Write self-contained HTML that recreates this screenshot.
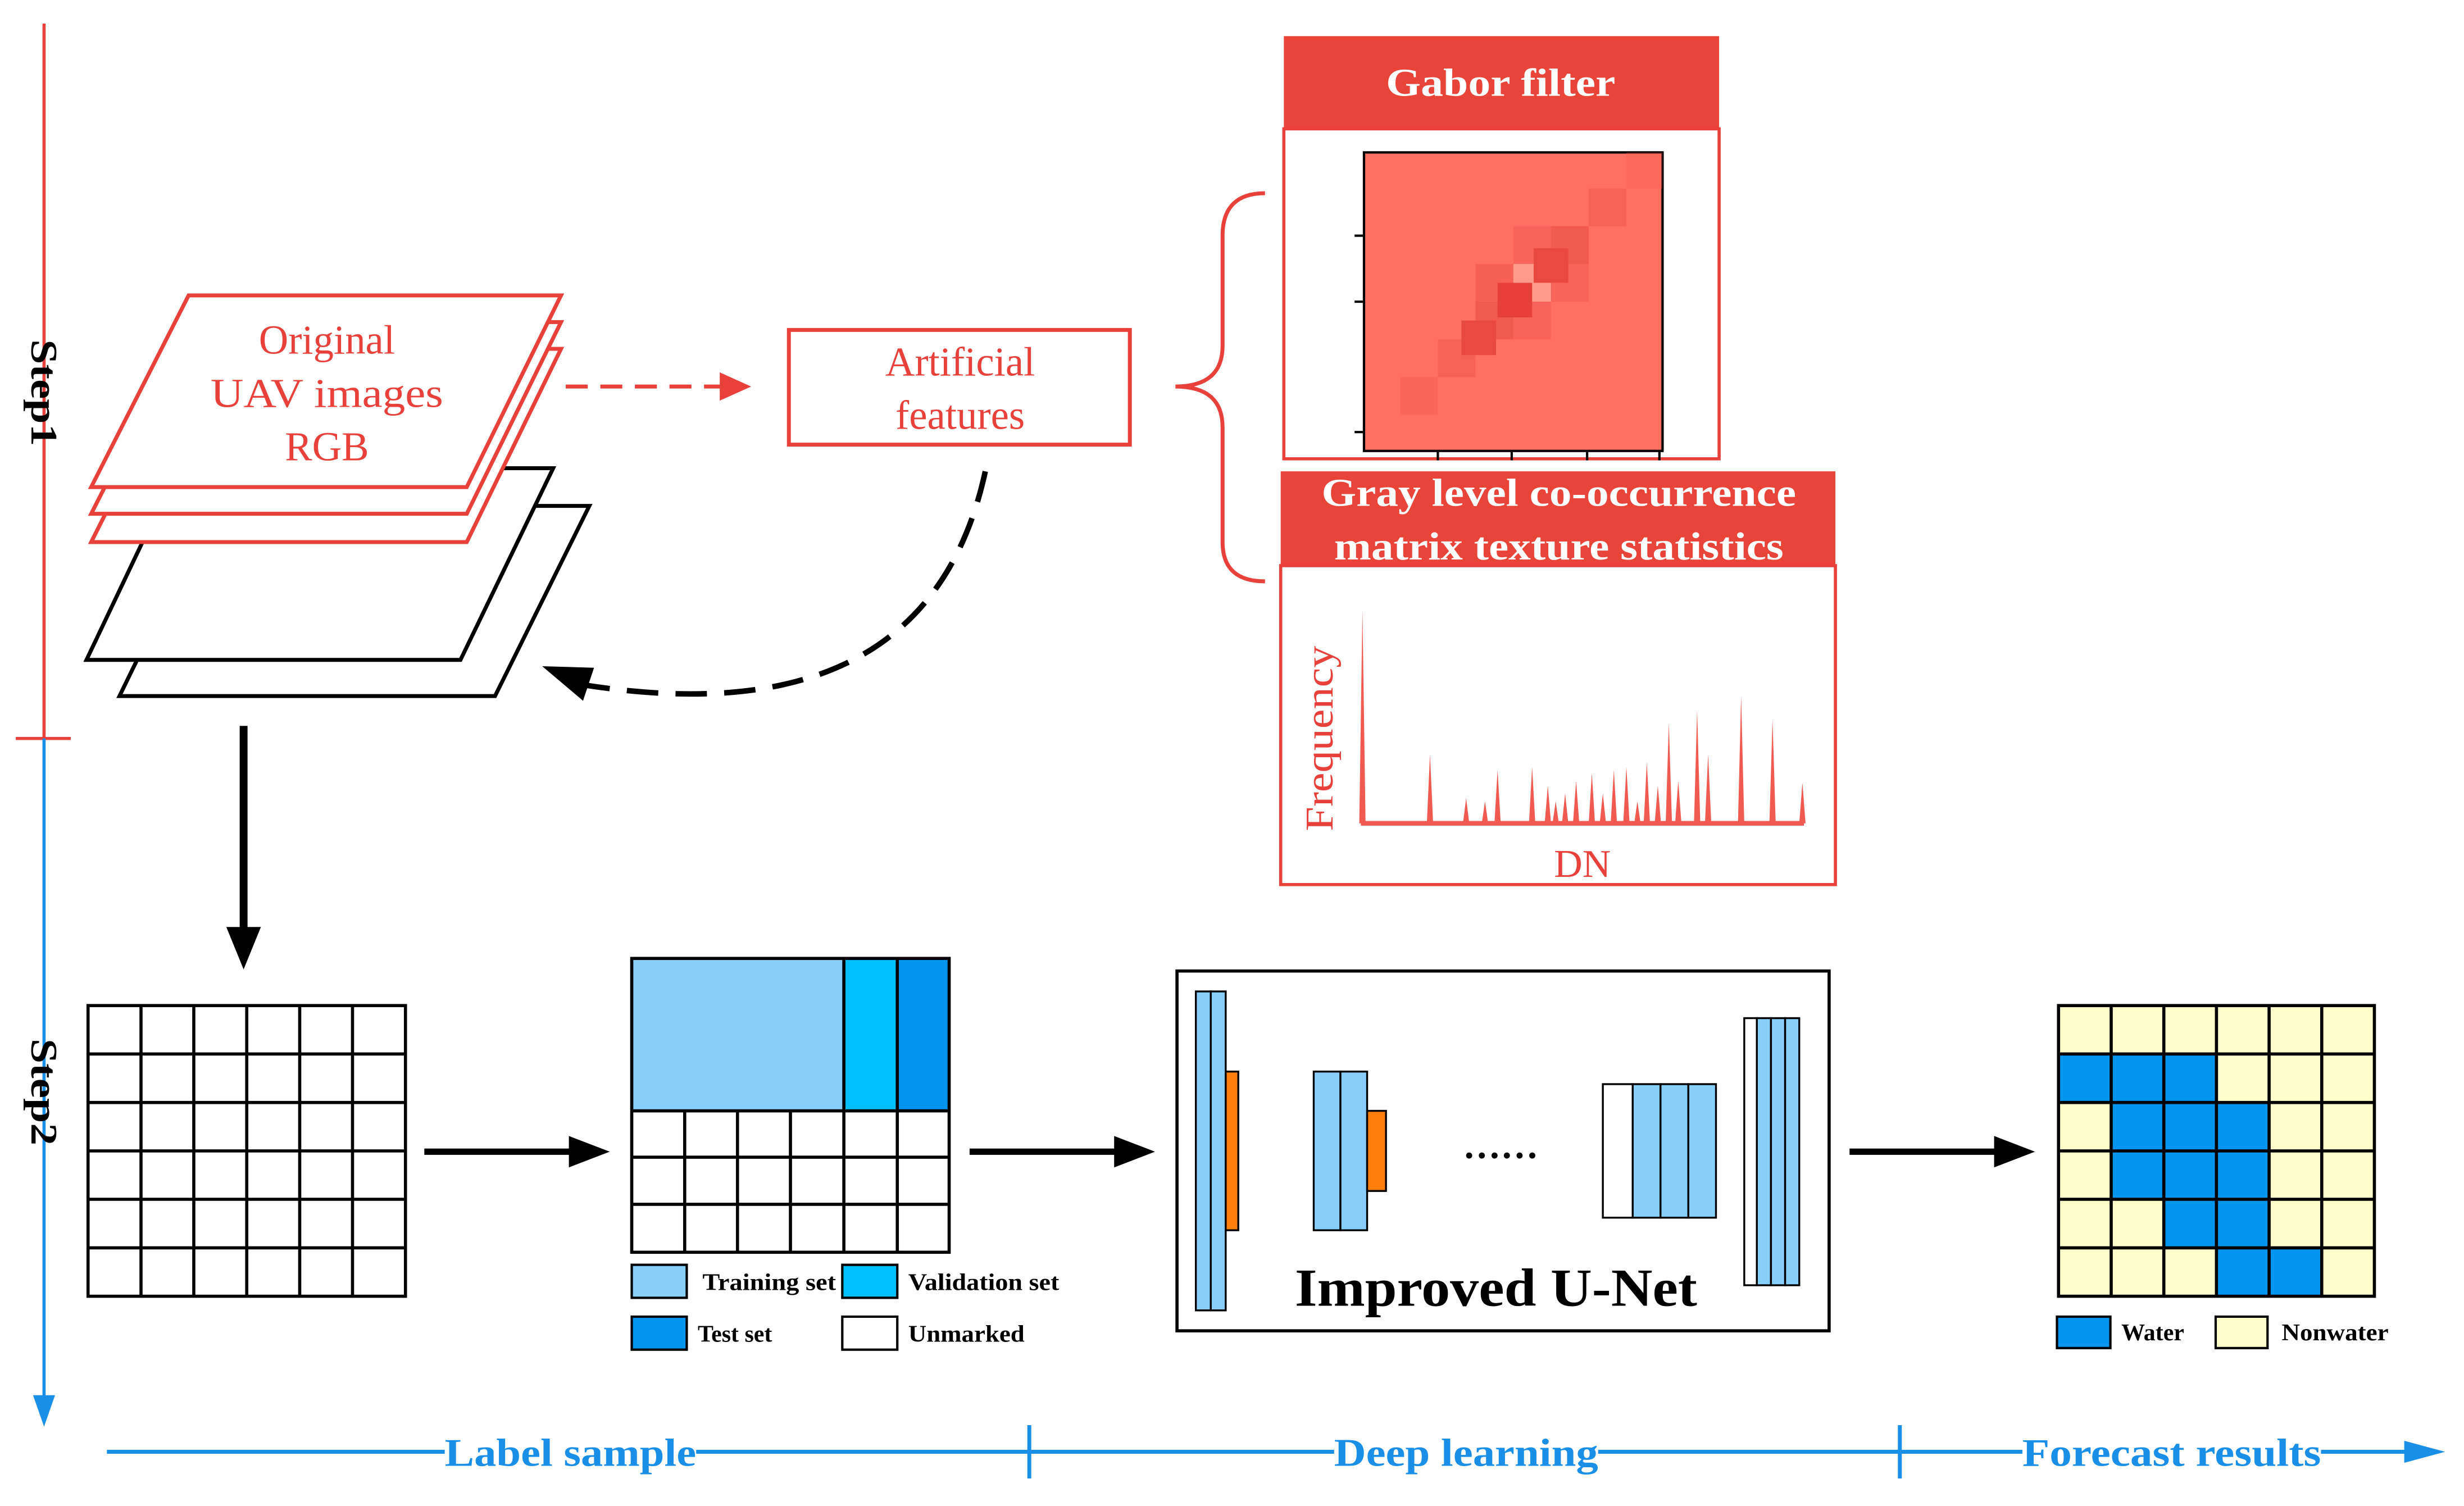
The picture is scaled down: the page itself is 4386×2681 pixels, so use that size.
<!DOCTYPE html>
<html><head><meta charset="utf-8"><style>html,body{margin:0;padding:0;background:#fff}svg{display:block}</style></head><body>
<svg width="4386" height="2681" viewBox="0 0 1568 958.5" xmlns="http://www.w3.org/2000/svg" font-family="'Liberation Serif', serif">
<!-- step axis -->
<line x1="28" y1="15" x2="28" y2="470" stroke="#e8403a" stroke-width="2"/>
<line x1="10" y1="470" x2="45" y2="470" stroke="#e8403a" stroke-width="2"/>
<line x1="28" y1="470" x2="28" y2="893" stroke="#1a8fe8" stroke-width="2"/>
<path d="M21,888 L28,908 L35,888z" fill="#1a8fe8"/>
<text transform="translate(20,250) rotate(90)" font-size="24" font-weight="bold" text-anchor="middle" fill="#000" textLength="68" lengthAdjust="spacingAndGlyphs">Step1</text>
<text transform="translate(20,695) rotate(90)" font-size="24" font-weight="bold" text-anchor="middle" fill="#000" textLength="68" lengthAdjust="spacingAndGlyphs">Step2</text>
<!-- black layers -->
<polygon points="135,322 375,322 315,443 76,443" fill="#fff" stroke="#000" stroke-width="2.5"/>
<polygon points="113,298 352,298 293,420 55,420" fill="#fff" stroke="#000" stroke-width="2.5"/>
<!-- red layers -->
<polygon points="120,222 357,222 297,345 58,345" fill="#fff" stroke="#e8403a" stroke-width="2.5"/>
<polygon points="120,205 357,205 297,327 58,327" fill="#fff" stroke="#e8403a" stroke-width="2.5"/>
<polygon points="120,188 357,188 297,310 58,310" fill="#fff" stroke="#e8403a" stroke-width="2.5"/>
<g fill="#e8403a" font-size="26" text-anchor="middle"><text x="208" y="225">Original</text><text x="208" y="259" textLength="148" lengthAdjust="spacingAndGlyphs">UAV images</text><text x="208" y="293">RGB</text></g>
<line x1="360" y1="246" x2="462" y2="246" stroke="#e8403a" stroke-width="2.5" stroke-dasharray="14,8"/>
<path d="M458,237 L478,246 L458,255z" fill="#e8403a"/>
<rect x="502" y="210" width="217" height="73" fill="#fff" stroke="#e8403a" stroke-width="2.5"/>
<g fill="#e8403a" font-size="26" text-anchor="middle"><text x="611" y="239">Artificial</text><text x="611" y="273">features</text></g>
<path d="M627,300 Q590,470 372,436" fill="none" stroke="#000" stroke-width="3.5" stroke-dasharray="20,11"/>
<path d="M378,425 L345,424 L371,446z" fill="#000"/>
<!-- brace -->
<path d="M805,123 Q778,123 778,150 L778,220 Q778,246 748,246 Q778,246 778,272 L778,345 Q778,370 805,370" fill="none" stroke="#e8403a" stroke-width="2.5"/>
<!-- Gabor -->
<rect x="817" y="23" width="277" height="59" fill="#e8443a"/>
<text x="955" y="61" font-size="25" font-weight="bold" fill="#fff" text-anchor="middle" textLength="146" lengthAdjust="spacingAndGlyphs">Gabor filter</text>
<rect x="817" y="82" width="277" height="210" fill="#fff" stroke="#e8403a" stroke-width="2"/>
<rect x="868" y="97" width="190" height="190" fill="#ff6f62" stroke="#000" stroke-width="1.5"/>
<g fill="#f25a50">
<rect x="1011" y="120" width="24" height="24" opacity=".6"/><rect x="987" y="144" width="24" height="24"/><rect x="963" y="168" width="24" height="24" fill="#ff9a8c"/><rect x="939" y="192" width="24" height="24"/><rect x="915" y="216" width="24" height="24" opacity=".6"/>
<rect x="939" y="168" width="24" height="24" opacity=".7"/><rect x="963" y="144" width="24" height="24" opacity=".5"/><rect x="963" y="192" width="24" height="24" opacity=".5"/><rect x="987" y="168" width="24" height="24" opacity=".5"/>
<rect x="953" y="180" width="22" height="22" fill="#e84038"/><rect x="930" y="204" width="22" height="22" fill="#e84a40"/><rect x="976" y="158" width="22" height="22" fill="#e84a40"/>
<rect x="891" y="240" width="24" height="24" opacity=".4"/><rect x="1035" y="97" width="23" height="23" opacity=".3"/>
</g>
<g stroke="#000" stroke-width="1.5"><line x1="862" y1="150" x2="868" y2="150"/><line x1="862" y1="192" x2="868" y2="192"/><line x1="862" y1="275" x2="868" y2="275"/><line x1="915" y1="287" x2="915" y2="293"/><line x1="962" y1="287" x2="962" y2="293"/><line x1="1010" y1="287" x2="1010" y2="293"/><line x1="1056" y1="287" x2="1056" y2="293"/></g>
<!-- GLCM -->
<rect x="815" y="300" width="353" height="60" fill="#e8443a"/>
<g font-size="25" font-weight="bold" fill="#fff" text-anchor="middle"><text x="992" y="322" textLength="302" lengthAdjust="spacingAndGlyphs">Gray level co-occurrence</text><text x="992" y="356" textLength="286" lengthAdjust="spacingAndGlyphs">matrix texture statistics</text></g>
<rect x="815" y="360" width="353" height="203" fill="#fff" stroke="#e8403a" stroke-width="2"/>
<text transform="translate(848,470) rotate(-90)" font-size="25" fill="#e8403a" text-anchor="middle" textLength="118" lengthAdjust="spacingAndGlyphs">Frequency</text>
<text x="1007" y="558" font-size="25" fill="#e8403a" text-anchor="middle">DN</text>
<line x1="866" y1="524" x2="1148" y2="524" stroke="#f05a50" stroke-width="3"/>
<path fill="#f05a50" d="M865,524 L867,388 L869,524 M908,524 L910,480 L912,524 M931,524 L933,508 L935,524 M943,524 L945,510 L947,524 M951,524 L953,490 L955,524 M973,524 L975,488 L977,524 M983,524 L985,500 L987,524 M988,524 L990,510 L992,524 M994,524 L996,505 L998,524 M1001,524 L1003,497 L1005,524 M1011,524 L1013,492 L1015,524 M1018,524 L1020,505 L1022,524 M1025,524 L1027,490 L1029,524 M1033,524 L1035,488 L1037,524 M1040,524 L1042,510 L1044,524 M1046,524 L1048,485 L1050,524 M1053,524 L1055,500 L1057,524 M1060,524 L1062,460 L1064,524 M1066,524 L1068,497 L1070,524 M1078,524 L1080,452 L1082,524 M1085,524 L1087,480 L1089,524 M1106,524 L1108,443 L1110,524 M1126,524 L1128,458 L1130,524 M1145,524 L1147,498 L1149,524"/>
<!-- arrows -->
<line x1="155" y1="462" x2="155" y2="595" stroke="#000" stroke-width="5"/>
<path d="M144,590 L155,617 L166,590z" fill="#000"/>
<line x1="270" y1="733" x2="366" y2="733" stroke="#000" stroke-width="4"/><path d="M362,723 L388,733 L362,743z" fill="#000"/>
<line x1="617" y1="733" x2="713" y2="733" stroke="#000" stroke-width="4"/><path d="M709,723 L735,733 L709,743z" fill="#000"/>
<line x1="1177" y1="733" x2="1273" y2="733" stroke="#000" stroke-width="4"/><path d="M1269,723 L1295,733 L1269,743z" fill="#000"/>
<!-- grid1 -->
<g stroke="#000" stroke-width="2" fill="none">
<rect x="56" y="640" width="202" height="185"/>
<path d="M89.7,640V825M123.3,640V825M157,640V825M190.7,640V825M224.3,640V825M56,670.8H258M56,701.7H258M56,732.5H258M56,763.3H258M56,794.2H258"/>
</g>
<!-- grid2 -->
<rect x="402" y="610" width="135" height="97" fill="#87cefa"/>
<rect x="537" y="610" width="34" height="97" fill="#00bfff"/>
<rect x="571" y="610" width="33" height="97" fill="#0096f0"/>
<g stroke="#000" stroke-width="2" fill="none">
<rect x="402" y="610" width="202" height="187"/>
<path d="M537,610V797M571,610V797M402,707H604M402,736.5H604M402,766.5H604M435.7,707V797M469.3,707V797M503,707V797"/>
</g>
<g stroke="#000" stroke-width="1.5"><rect x="402" y="805" width="35" height="21" fill="#87cefa"/><rect x="536" y="805" width="35" height="21" fill="#00bfff"/><rect x="402" y="838" width="35" height="21" fill="#0096f0"/><rect x="536" y="838" width="35" height="21" fill="#fff"/></g>
<g font-size="15" font-weight="bold" fill="#000"><text x="447" y="821" textLength="85" lengthAdjust="spacingAndGlyphs">Training set</text><text x="578" y="821" textLength="96" lengthAdjust="spacingAndGlyphs">Validation set</text><text x="444" y="854">Test set</text><text x="578" y="854" textLength="74" lengthAdjust="spacingAndGlyphs">Unmarked</text></g>
<!-- unet -->
<rect x="749" y="618" width="415" height="229" fill="#fff" stroke="#000" stroke-width="2"/>
<g stroke="#000" stroke-width="1.2">
<rect x="761" y="631" width="9.5" height="203" fill="#87cefa"/><rect x="770.5" y="631" width="9.5" height="203" fill="#87cefa"/>
<rect x="780" y="682" width="8" height="101" fill="#ff7f0e"/>
<rect x="836" y="682" width="17" height="101" fill="#87cefa"/><rect x="853" y="682" width="17" height="101" fill="#87cefa"/>
<rect x="870" y="707" width="12" height="51" fill="#ff7f0e"/>
<rect x="1020" y="690" width="19" height="85" fill="#fff"/><rect x="1039" y="690" width="17.7" height="85" fill="#87cefa"/><rect x="1056.7" y="690" width="17.7" height="85" fill="#87cefa"/><rect x="1074.4" y="690" width="17.6" height="85" fill="#87cefa"/>
<rect x="1110" y="648" width="8" height="170" fill="#fff"/><rect x="1118" y="648" width="9" height="170" fill="#87cefa"/><rect x="1127" y="648" width="9" height="170" fill="#87cefa"/><rect x="1136" y="648" width="9" height="170" fill="#87cefa"/>
</g>
<text x="955" y="737" font-size="24" font-weight="bold" text-anchor="middle">……</text>
<text x="952" y="831" font-size="34" font-weight="bold" text-anchor="middle" textLength="256" lengthAdjust="spacingAndGlyphs">Improved U-Net</text>
<!-- result grid -->
<rect x="1310" y="640" width="201" height="185" fill="#ffffcc"/>
<g fill="#0096f0">
<rect x="1310" y="670.8" width="100.5" height="30.9"/>
<rect x="1343.5" y="701.7" width="100.5" height="61.6"/>
<rect x="1377" y="763.3" width="67" height="30.9"/>
<rect x="1410.5" y="794.2" width="67" height="30.8"/>
</g>
<g stroke="#000" stroke-width="2" fill="none">
<rect x="1310" y="640" width="201" height="185"/>
<path d="M1343.5,640V825M1377,640V825M1410.5,640V825M1444,640V825M1477.5,640V825M1310,670.8H1511M1310,701.7H1511M1310,732.5H1511M1310,763.3H1511M1310,794.2H1511"/>
</g>
<g stroke="#000" stroke-width="1.5"><rect x="1309" y="838" width="34" height="20" fill="#0096f0"/><rect x="1410" y="838" width="33" height="20" fill="#ffffcc"/></g>
<g font-size="15" font-weight="bold"><text x="1350" y="853">Water</text><text x="1452" y="853" textLength="68" lengthAdjust="spacingAndGlyphs">Nonwater</text></g>
<!-- bottom axis -->
<line x1="68" y1="924" x2="1540" y2="924" stroke="#1a8fe8" stroke-width="2.5"/>
<path d="M1530,917 L1556,924 L1530,931z" fill="#1a8fe8"/>
<line x1="655" y1="907" x2="655" y2="941" stroke="#1a8fe8" stroke-width="2.5"/>
<line x1="1209" y1="907" x2="1209" y2="941" stroke="#1a8fe8" stroke-width="2.5"/>
<g font-size="25" font-weight="bold" fill="#1a8fe8" text-anchor="middle">
<rect x="283" y="910" width="160" height="28" fill="#fff"/><text x="363" y="933" textLength="160" lengthAdjust="spacingAndGlyphs">Label sample</text>
<rect x="849" y="910" width="168" height="28" fill="#fff"/><text x="933" y="933" textLength="168" lengthAdjust="spacingAndGlyphs">Deep learning</text>
<rect x="1287" y="910" width="190" height="28" fill="#fff"/><text x="1382" y="933" textLength="190" lengthAdjust="spacingAndGlyphs">Forecast results</text>
</g>
</svg>
</body></html>
